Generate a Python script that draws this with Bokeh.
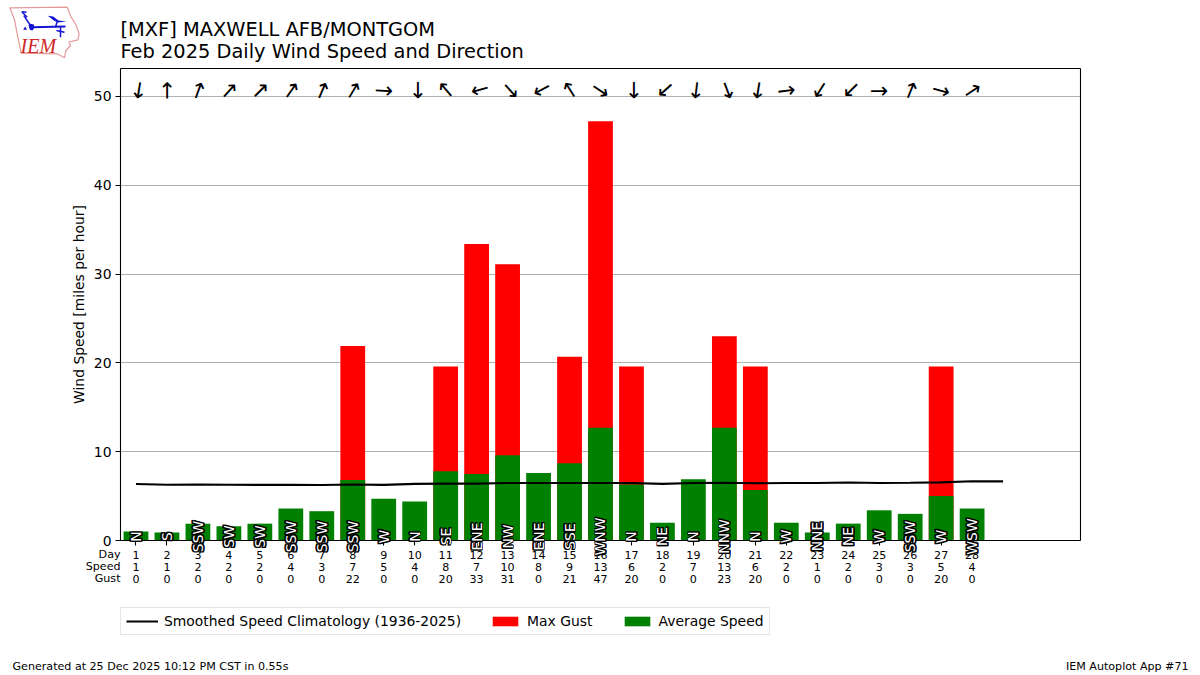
from bokeh.plotting import figure
from bokeh.models import (ColumnDataSource, LabelSet, Label, Legend, LegendItem, PolyAnnotation,
                          FixedTicker, Range1d, LinearAxis, Grid)
from bokeh.core.properties import value
from bokeh.embed import file_html
from bokeh.resources import INLINE

days = list(range(1, 29))
avg_speed = [1.0, 0.9, 1.9, 1.6, 1.9, 3.6, 3.3, 6.8, 4.7, 4.4, 7.8, 7.5, 9.6, 7.6,
             8.7, 12.7, 6.3, 2.0, 6.9, 12.7, 5.7, 2.0, 0.9, 1.9, 3.4, 3.0, 5.0, 3.6]
max_gust = [0, 0, 0, 0, 0, 0, 0, 21.9, 0, 0, 19.6, 33.4, 31.1, 0,
            20.7, 47.2, 19.6, 0, 0, 23.0, 19.6, 0, 0, 0, 0, 0, 19.6, 0]
speed_row = [1, 1, 2, 2, 2, 4, 3, 7, 5, 4, 8, 7, 10, 8, 9, 13, 6, 2, 7, 13, 6, 2, 1, 2, 3, 3, 5, 4]
gust_row = [0, 0, 0, 0, 0, 0, 0, 22, 0, 0, 20, 33, 31, 0, 21, 47, 20, 0, 0, 23, 20, 0, 0, 0, 0, 0, 20, 0]
dir_names = ["N", "S", "SSW", "SW", "SW", "SSW", "SSW", "SSW", "W", "N", "SE", "ENE", "NW", "ENE",
             "SSE", "WNW", "N", "NE", "N", "NNW", "N", "W", "NNE", "NE", "W", "SSW", "W", "WSW"]
arrow_angle = [-99, 90, 70, 48, 45, 55, 67, 59, -3, -90, 131, 195, -48, 208,
               122, -34, -90, 222, -97, -69, -99, 7, 238, 225, 0, 68, -15, 34]
clim_days = list(range(1, 30))
clim_speed = [6.36, 6.27, 6.30, 6.27, 6.26, 6.26, 6.25, 6.30, 6.26, 6.38, 6.40, 6.40, 6.48, 6.48, 6.47,
              6.48, 6.48, 6.38, 6.48, 6.50, 6.45, 6.47, 6.47, 6.53, 6.48, 6.50, 6.55, 6.68, 6.66]
y_ticks = [0, 10, 20, 30, 40, 50]

title_1 = "[MXF] MAXWELL AFB/MONTGOM"
title_2 = "Feb 2025 Daily Wind Speed and Direction"
footer_left = "Generated at 25 Dec 2025 10:12 PM CST in 0.55s"
footer_right = "IEM Autoplot App #71"

FONT = "DejaVu Sans"
W, H = 1200, 675
# The plot frame fills the canvas so that texts may lie outside the drawn axes box.
X0, X1, Y0, Y1 = 0.5, 31.5, 0.0, 53.15
XS = (X1 - X0) / 960
YS = (Y1 - Y0) / 472
p = figure(width=W, height=H, output_backend="svg", toolbar_location=None,
           x_range=Range1d(X0 - 120 * XS, X0 + 1080 * XS), y_range=Range1d(Y0 - 135 * YS, Y0 + 540 * YS),
           x_axis_location=None, y_axis_location=None,
           min_border=0, min_border_left=0, min_border_right=0, min_border_top=0, min_border_bottom=0,
           background_fill_color="white", border_fill_color="white", outline_line_color=None)
p.grid.visible = False
p.add_layout(Grid(dimension=1, ticker=FixedTicker(ticks=y_ticks), cross_bounds=(X0, X1),
                  grid_line_color="#b0b0b0", grid_line_width=1.1))

# Arrows that point downward sit a little right of their tick in the reference.
arrow_dx = [3.5 if a in (-99, -90, 195, -48, 208, 222, -97, -69, 238, 225) else 0 for a in arrow_angle]
src = ColumnDataSource(dict(day=days, avg=avg_speed, gust=max_gust, name=dir_names, angle=arrow_angle,
                            speed=[str(v) for v in speed_row], gustr=[str(v) for v in gust_row],
                            dayl=[str(d) for d in days], y0=[0] * 28, ydir=[0.45] * 28, yarrow=[50.7] * 28,
                            dx=arrow_dx))
r_gust = p.vbar(x="day", top="gust", width=0.8, source=src, fill_color="red", line_color=None)
r_avg = p.vbar(x="day", top="avg", width=0.8, source=src, fill_color="green", line_color=None)
r_line = p.line(clim_days, clim_speed, line_color="black", line_width=2.1)
p.text(x="day", y="yarrow", text=value("\u2192"), angle="angle", angle_units="deg", source=src,
       x_offset="dx", text_font=value(FONT), text_font_size=value("22px"), text_align="center",
       text_baseline="middle", text_color="black")


def style_axis(ax):
    ax.minor_tick_line_color = None
    ax.major_tick_in = 0
    ax.major_tick_out = 5
    ax.major_tick_line_width = 1.1
    ax.axis_line_width = 1.1
    ax.axis_line_color = "black"


yaxis = LinearAxis(fixed_location=X0, bounds=(Y0, Y1), ticker=FixedTicker(ticks=y_ticks))
style_axis(yaxis)
yaxis.major_label_text_font = FONT
yaxis.major_label_text_font_size = "13.9px"
yaxis.major_label_text_color = "black"
yaxis.major_label_standoff = 4
yaxis.axis_label = "Wind Speed [miles per hour]"
yaxis.axis_label_text_font = FONT
yaxis.axis_label_text_font_size = "13.9px"
yaxis.axis_label_text_font_style = "normal"
yaxis.axis_label_text_color = "black"
yaxis.axis_label_standoff = 4
p.add_layout(yaxis, "left")

xaxis = LinearAxis(fixed_location=Y0, bounds=(X0, X1), ticker=FixedTicker(ticks=days))
style_axis(xaxis)
xaxis.major_label_text_font_size = "0px"
xaxis.major_label_text_color = None
p.add_layout(xaxis, "below")

for loc, bounds, side in ((X1, (Y0, Y1), "right"), (Y1, (X0, X1), "above")):
    spine = LinearAxis(fixed_location=loc, bounds=bounds, ticker=FixedTicker(ticks=[]))
    style_axis(spine)
    spine.major_tick_line_color = None
    spine.major_label_text_font_size = "0px"
    spine.major_label_text_color = None
    p.add_layout(spine, side)

for col, off in (("dayl", -14), ("speed", -26), ("gustr", -38)):
    p.add_layout(LabelSet(x="day", y="y0", text=col, source=src, y_offset=off, text_align="center",
                          text_baseline="middle", text_font=value(FONT), text_font_size="11.1px",
                          text_color="black"))
# Direction labels: a black halo built from offset copies, white letters on top.
for ox, oy in ((-0.8, -0.8), (0.8, -0.8), (-0.8, 0.8), (0.8, 0.8)):
    p.add_layout(LabelSet(x="day", y="ydir", text="name", source=src, angle=90, angle_units="deg",
                          x_offset=ox, y_offset=oy, text_align="center", text_baseline="middle",
                          text_font=value(FONT), text_font_size="13.9px", text_color="black",
                          text_outline_color="black"))
p.add_layout(LabelSet(x="day", y="ydir", text="name", source=src, angle=90, angle_units="deg",
                      text_align="center", text_baseline="middle", text_font=value(FONT),
                      text_font_size="13.9px", text_color="white"))


def canvas_label(text, x, y, size, align="left", color="black", font=FONT, style="normal", baseline="alphabetic"):
    p.add_layout(Label(x=x, y=y, x_units="canvas", y_units="canvas", text=text, text_align=align,
                       text_baseline=baseline, text_font=font, text_font_size=size,
                       text_font_style=style, text_color=color))


canvas_label(title_1, 120, 29, "19.4px")
canvas_label(title_2, 120, 51, "19.4px")
canvas_label("Day", 120, 554, "11.1px", align="right")
canvas_label("Speed", 120, 566, "11.1px", align="right")
canvas_label("Gust", 120, 578, "11.1px", align="right")
canvas_label(footer_left, 12, 666, "11.1px")
canvas_label(footer_right, 1188, 666, "11.1px", align="right")

legend = Legend(items=[LegendItem(label="Smoothed Speed Climatology (1936-2025)", renderers=[r_line]),
                       LegendItem(label="Max Gust", renderers=[r_gust]),
                       LegendItem(label="Average Speed", renderers=[r_avg])],
                orientation="horizontal", location=(120, 40), margin=0, padding=5, spacing=28,
                glyph_width=32, glyph_height=12, label_standoff=6, label_height=14,
                label_text_font=FONT, label_text_font_size="13.9px", label_text_color="black",
                border_line_color="#cccccc", border_line_width=1.1, background_fill_alpha=0.8)
p.add_layout(legend)


def poly(xs, ys, fill=None, line=None, lw=1.0):
    p.add_layout(PolyAnnotation(xs=[x / 3 for x in xs], ys=[y / 3 for y in ys],
                                xs_units="canvas", ys_units="canvas",
                                fill_color=fill, fill_alpha=1.0 if fill else 0.0,
                                line_color=line, line_alpha=1.0 if line else 0.0, line_width=lw))


IOWA = "#e59a9a"
BLUE = "#1414d2"
poly([28, 200, 212, 226, 236, 232, 205, 210, 196, 192, 170, 62, 52, 42],
     [22, 20, 50, 72, 100, 118, 125, 135, 150, 172, 160, 158, 110, 58], None, IOWA, 1.2)
poly([95, 195], [80, 78], None, BLUE, 2)
poly([93, 70], [80, 45], None, BLUE, 1.5)
poly([64, 80], [34, 50], None, BLUE, 1.5)
poly([64, 78], [34, 35], None, BLUE, 1.5)
poly([84, 90, 100, 102, 96, 88], [74, 70, 72, 82, 90, 88], BLUE)
poly([142, 158, 174, 198, 172, 160], [46, 48, 60, 63, 66, 60], BLUE)
poly([170, 165], [64, 80], None, BLUE, 1.5)
poly([180, 180], [80, 110], None, BLUE, 1.5)
poly([168, 192], [90, 95], None, BLUE, 1.5)
poly([68, 74, 80], [88, 78, 88], BLUE)
canvas_label("IEM", 20, 45, "20px", color="#d02828", font="Liberation Serif", style="italic")

open("out.html", "w").write(file_html(p, INLINE))
